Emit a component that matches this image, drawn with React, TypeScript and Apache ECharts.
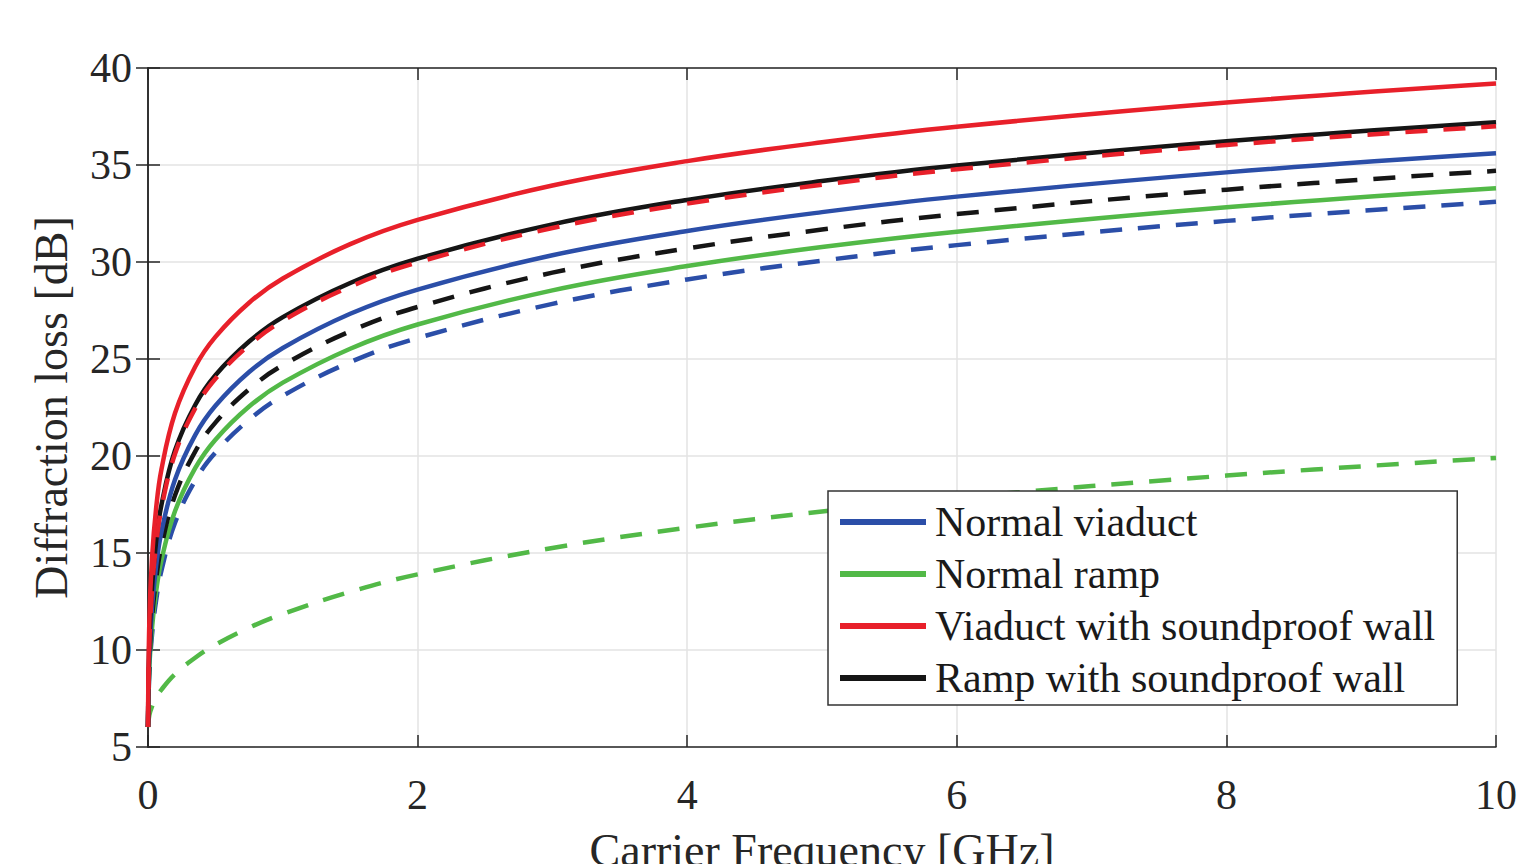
import React, { useEffect, useRef } from "react";
import * as echarts from "echarts";

// Carrier frequency samples [GHz]
const freqs = [0, 0.01, 0.03, 0.06, 0.1, 0.2, 0.35, 0.5, 0.75, 1, 1.5, 2, 3, 4, 5, 6, 8, 10];

// Diffraction loss [dB], solid curves
const normalViaduct = [6.03, 9.74, 12.21, 14.31, 16.1, 18.78, 21.08, 22.59, 24.33, 25.57, 27.33, 28.58, 30.35, 31.6, 32.57, 33.37, 34.62, 35.6];
const normalRamp = [6.03, 9.07, 11.16, 13.0, 14.64, 17.15, 19.37, 20.84, 22.55, 23.78, 25.53, 26.78, 28.54, 29.79, 30.77, 31.56, 32.82, 33.8];
const viaductWall = [6.03, 11.5, 14.76, 17.29, 19.32, 22.2, 24.6, 26.14, 27.9, 29.15, 30.92, 32.17, 33.94, 35.2, 36.17, 36.97, 38.22, 39.2];
const rampWall = [6.03, 10.45, 13.27, 15.58, 17.49, 20.28, 22.63, 24.16, 25.9, 27.16, 28.92, 30.17, 31.94, 33.2, 34.17, 34.97, 36.22, 37.2];

// Dashed curves
const normalViaductDashed = [6.03, 8.84, 10.79, 12.54, 14.1, 16.55, 18.73, 20.18, 21.87, 23.1, 24.84, 26.08, 27.84, 29.1, 30.07, 30.87, 32.12, 33.1];
const normalRampDashed = [6.03, 6.64, 7.09, 7.53, 7.96, 8.75, 9.6, 10.27, 11.15, 11.86, 13.0, 13.9, 15.26, 16.3, 17.14, 17.85, 18.99, 19.9];
const viaductWallDashed = [6.03, 10.36, 13.13, 15.42, 17.32, 20.1, 22.45, 23.98, 25.72, 26.97, 28.73, 29.98, 31.75, 33.01, 33.98, 34.78, 36.03, 37.0];
const rampWallDashed = [6.03, 9.39, 11.67, 13.64, 15.36, 17.96, 20.23, 21.72, 23.44, 24.68, 26.43, 27.68, 29.45, 30.7, 31.67, 32.47, 33.73, 34.7];

const xTicks = [0, 2, 4, 6, 8, 10];
const yTicks = [5, 10, 15, 20, 25, 30, 35, 40];

const legendNames = ["Normal viaduct", "Normal ramp", "Viaduct with soundproof wall", "Ramp with soundproof wall"];

const BLUE = "#2b4ea8";
const GREEN = "#52b947";
const RED = "#e8202a";
const BLACK = "#151515";
const FONT = "'Liberation Serif', 'Times New Roman', serif";

const pairs = (ys: number[]) => freqs.map((f, i) => [f, ys[i]]);

export default function App() {
  const ref = useRef<HTMLDivElement>(null);
  useEffect(() => {
    if (!ref.current) return;
    const chart = echarts.init(ref.current, null, { renderer: "svg" });
    const line = (name: string, ys: number[], color: string, dashed: boolean) => ({
      name,
      type: "line",
      data: pairs(ys),
      showSymbol: false,
      smooth: 0.4,
      color,
      lineStyle: { color, width: 4.5, type: dashed ? [22, 16] : "solid" },
      z: 3,
    });
    const axisLabel = { fontFamily: FONT, fontSize: 42, color: "#262626" };
    const axisLine = { show: true, lineStyle: { color: "#262626", width: 1.5 } };
    const axisTick = { show: true, inside: true, length: 12, lineStyle: { color: "#262626", width: 1.5 } };
    chart.setOption({
      animation: false,
      backgroundColor: "#ffffff",
      grid: { left: 148, right: 24, top: 68, bottom: 117, containLabel: false, outerBoundsMode: "none" },
      legend: {
        data: legendNames,
        orient: "vertical",
        left: 828,
        top: 491,
        icon: "rect",
        itemWidth: 86,
        itemHeight: 6,
        itemGap: 10,
        padding: [10, 22, 6, 12],
        borderColor: "#333333",
        borderWidth: 1.5,
        backgroundColor: "#ffffff",
        textStyle: { fontFamily: FONT, fontSize: 42, color: "#1a1a1a", lineHeight: 42, padding: [0, 0, 0, 4] },
        selectedMode: false,
        z: 10,
      },
      xAxis: [
        {
          type: "value",
          min: 0,
          max: 10,
          interval: 2,
          name: "Carrier Frequency [GHz]",
          nameLocation: "middle",
          nameGap: 80,
          nameTextStyle: { fontFamily: FONT, fontSize: 46, color: "#262626", verticalAlign: "top" },
          axisLine,
          axisTick,
          axisLabel: { ...axisLabel, margin: 27, formatter: (v: number) => (xTicks.includes(v) ? String(v) : "") },
          splitLine: { show: true, lineStyle: { color: "#e3e3e3", width: 1.5 } },
        },
        {
          type: "value",
          position: "top",
          min: 0,
          max: 10,
          interval: 2,
          axisLine,
          axisTick,
          axisLabel: { show: false },
          splitLine: { show: false },
        },
      ],
      yAxis: [
        {
          type: "value",
          min: 5,
          max: 40,
          interval: 5,
          name: "Diffraction loss [dB]",
          nameLocation: "middle",
          nameGap: 74,
          nameTextStyle: { fontFamily: FONT, fontSize: 46, color: "#262626" },
          axisLine,
          axisTick,
          axisLabel: { ...axisLabel, margin: 16, formatter: (v: number) => (yTicks.includes(v) ? String(v) : "") },
          splitLine: { show: true, lineStyle: { color: "#e3e3e3", width: 1.5 } },
        },
        {
          type: "value",
          position: "right",
          min: 5,
          max: 40,
          interval: 5,
          axisLine,
          axisTick,
          axisLabel: { show: false },
          splitLine: { show: false },
        },
      ],
      series: [
        line("Normal ramp (dashed)", normalRampDashed, GREEN, true),
        line("Normal viaduct (dashed)", normalViaductDashed, BLUE, true),
        line("Normal ramp", normalRamp, GREEN, false),
        line("Ramp with soundproof wall (dashed)", rampWallDashed, BLACK, true),
        line("Normal viaduct", normalViaduct, BLUE, false),
        line("Ramp with soundproof wall", rampWall, BLACK, false),
        line("Viaduct with soundproof wall (dashed)", viaductWallDashed, RED, true),
        line("Viaduct with soundproof wall", viaductWall, RED, false),
      ],
    });
    return () => chart.dispose();
  }, []);
  return <div ref={ref} style={{ position: "fixed", left: 0, top: 0, width: 1520, height: 864 }} />;
}
